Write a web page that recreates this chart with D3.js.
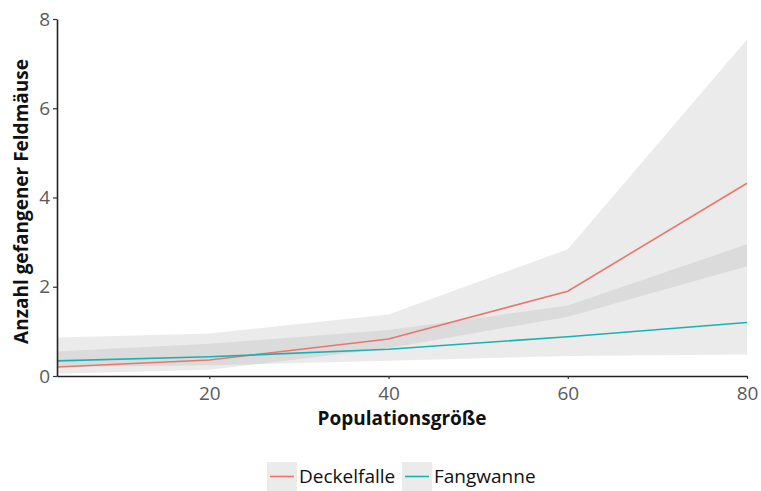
<!DOCTYPE html>
<html>
<head>
<meta charset="utf-8">
<script src="https://cdn.jsdelivr.net/npm/d3@7"></script>
<style>
  body { margin: 0; background: #ffffff; }
  svg { display: block; }
</style>
</head>
<body>
<div id="chart"></div>
<script>
// --- data ---
const popSize = [3, 20, 40, 60, 80];
const seriesNames = ["Deckelfalle", "Fangwanne"];
const deckelMean  = [0.20, 0.36, 0.83, 1.90, 4.32];
const deckelLower = [0.05, 0.14, 0.62, 1.33, 2.46];
const deckelUpper = [0.86, 0.95, 1.38, 2.84, 7.54];
const fangMean    = [0.34, 0.43, 0.60, 0.88, 1.20];
const fangLower   = [0.20, 0.24, 0.34, 0.45, 0.48];
const fangUpper   = [0.55, 0.72, 1.03, 1.58, 2.95];
const xTicks = [20, 40, 60, 80];
const yTicks = [0, 2, 4, 6, 8];

const width = 761, height = 491;
const margin = { top: 19, right: 14, bottom: 115, left: 57 };
const colors = { Deckelfalle: "#e8766d", Fangwanne: "#19b2b4" };
const fontFamily = "'Open Sans', 'Noto Sans', sans-serif";

const svg = d3.select("#chart").append("svg")
  .attr("width", width)
  .attr("height", height);

const x = d3.scaleLinear().domain([3, 80]).range([margin.left, width - margin.right]);
const y = d3.scaleLinear().domain([0, 8]).range([height - margin.bottom, margin.top]);

const series = [
  { name: "Deckelfalle", mean: deckelMean, lower: deckelLower, upper: deckelUpper },
  { name: "Fangwanne", mean: fangMean, lower: fangLower, upper: fangUpper }
];

// ribbons (semi transparent, overlap gets darker)
const area = d3.area()
  .x((d, i) => x(popSize[i]))
  .y0(d => y(d[0]))
  .y1(d => y(d[1]));

series.forEach(s => {
  svg.append("path")
    .datum(s.lower.map((v, i) => [v, s.upper[i]]))
    .attr("d", area)
    .attr("fill", "#999999")
    .attr("fill-opacity", 0.2);
});

// lines
const line = d3.line()
  .x((d, i) => x(popSize[i]))
  .y(d => y(d));

series.forEach(s => {
  svg.append("path")
    .datum(s.mean)
    .attr("d", line)
    .attr("fill", "none")
    .attr("stroke", colors[s.name])
    .attr("stroke-width", 1.6);
});

// axes
const xAxis = svg.append("g")
  .attr("transform", `translate(0,${height - margin.bottom})`)
  .call(d3.axisBottom(x).tickValues(xTicks).tickSize(3).tickPadding(8).tickSizeOuter(0));
const yAxis = svg.append("g")
  .attr("transform", `translate(${margin.left},0)`)
  .call(d3.axisLeft(y).tickValues(yTicks).tickSize(4).tickPadding(3).tickSizeOuter(0));

[xAxis, yAxis].forEach(ax => {
  ax.select(".domain").attr("stroke", "#222").attr("stroke-width", 1.6);
  ax.selectAll(".tick line").attr("stroke", "#333").attr("stroke-width", 1.2);
  ax.selectAll(".tick text")
    .attr("fill", "#5a5a5a")
    .style("font-family", fontFamily)
    .style("font-size", "19px");
});

// axis titles
svg.append("text")
  .attr("x", (margin.left + width - margin.right) / 2)
  .attr("y", 425)
  .attr("text-anchor", "middle")
  .style("font-family", fontFamily)
  .style("font-weight", "bold")
  .style("font-size", "19px")
  .attr("fill", "#111")
  .text("Populationsgröße");

svg.append("text")
  .attr("transform", `translate(28,${(margin.top + height - margin.bottom) / 2 + 4}) rotate(-90)`)
  .attr("text-anchor", "middle")
  .style("font-family", fontFamily)
  .style("font-weight", "bold")
  .style("font-size", "19px")
  .attr("fill", "#111")
  .text("Anzahl gefangener Feldmäuse");

// legend
const legend = svg.append("g").attr("transform", "translate(267,462)");
const keyW = 30, keyH = 29;
const legendX = [0, 135];
seriesNames.forEach((name, i) => {
  const g = legend.append("g").attr("transform", `translate(${legendX[i]},0)`);
  g.append("rect").attr("width", keyW).attr("height", keyH).attr("fill", "#ebebeb");
  g.append("line")
    .attr("x1", 3).attr("x2", keyW - 3)
    .attr("y1", keyH / 2).attr("y2", keyH / 2)
    .attr("stroke", colors[name]).attr("stroke-width", 1.6);
  g.append("text")
    .attr("x", keyW + 2)
    .attr("y", keyH / 2)
    .attr("dy", "0.35em")
    .style("font-family", fontFamily)
    .style("font-size", "19px")
    .attr("fill", "#111")
    .text(name);
});
</script>
</body>
</html>
